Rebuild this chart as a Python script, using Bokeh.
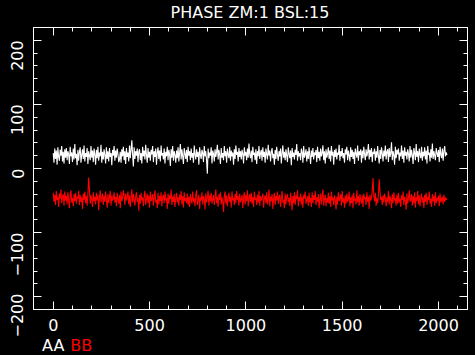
import numpy as np
from bokeh.plotting import figure
from bokeh.layouts import column
from bokeh.models import Range1d, LinearAxis, SingleIntervalTicker, CustomJSTickFormatter, Div
from bokeh.embed import file_html
from bokeh.resources import INLINE

TITLE = "PHASE ZM:1 BSL:15"
SERIES_NAMES = ["AA", "BB"]
SERIES_COLORS = ["white", "red"]
CHANNEL_STEP = 4

aa = [
    24, 9, 31, 15, 28, 6, 33, 18, 12, 29, 20, 35, 11, 26, 8, 30,
    17, 32, 13, 27, 22, 7, 34, 19, 25, 10, 31, 14, 38, 16, 23, 5,
    29, 12, 26, 33, 9, 21, 30, 15, 36, 11, 24, 18, 32, 7, 27, 20,
    13, 35, 17, 28, 10, 31, 22, 6, 29, 16, 34, 12, 25, 19, 37, 9,
    26, 14, 30, 21, 8, 33, 15, 27, 11, 32, 18, 24, 5, 29, 20, 35,
    12, 28, 17, 31, 23, 10, 14, 26, 9, 30, 19, 34, 13, 27, 7, 32,
    18, 25, 11, 36, 16, 29, 44, 22, 3, 33, 15, 27, 20, 31, 10, 26,
    30, 13, 24, 8, 34, 19, 28, 14, 37, 21, 9, 32, 17, 26, 12, 29,
    22, 35, 10, 27, 18, 31, 6, 25, 33, 15, 28, 11, 36, 20, 24, 14,
    31, 8, 26, 19, 34, 13, 29, 22, 4, 30, 17, 35, 12, 27, 21, 9,
    28, 16, 33, 11, 25, 38, 14, 30, 19, 7, 32, 23, 15, 29, 10, 34,
    20, 27, 13, 31, 17, 24, 9, 36, 22, 14, 30, 18, 26, 6, 33, 21,
    15, 29, 24, 10, 35, 19, 27, 12, -8, 31, 16, 25, 20, 33, 8, 28,
    23, 11, 30, 18, 26, 37, 14, 29, 21, 7, 32, 17, 24, 13, 35, 19,
    27, 9, 31, 22, 16, 34, 12, 28, 19, 25, 6, 30, 15, 36, 21, 26,
    11, 32, 18, 27, 14, 29, 23, 8, 33, 20, 26, 13, 31, 17, 39, 22,
    16, 28, 10, 34, 21, 25, 13, 30, 7, 27, 19, 35, 15, 24, 29, 12,
    33, 18, 26, 9, 31, 22, 14, 37, 20, 28, 11, 25, 32, 16, 23, 6,
    29, 15, 34, 21, 12, 27, 19, 31, 8, 24, 36, 17, 26, 13, 30, 20,
    10, 33, 23, 16, 28, 5, 32, 18, 25, 14, 29, 21, 38, 12, 27, 19,
    24, 13, 31, 26, 9, 35, 17, 22, 30, 11, 27, 15, 33, 20, 7, 28,
    18, 32, 14, 25, 21, 29, 10, 34, 16, 26, 12, 31, 19, 24, 36, 13,
    27, 8, 30, 17, 23, 33, 15, 28, 11, 35, 20, 26, 6, 29, 18, 31,
    14, 25, 21, 37, 12, 27, 19, 32, 16, 24, 9, 30, 22, 34, 13, 28,
    20, 11, 33, 18, 29, 15, 26, 7, 31, 23, 17, 36, 12, 27, 21, 30,
    9, 28, 16, 34, 22, 13, 30, 19, 25, 38, 14, 29, 18, 32, 10, 26,
    23, 31, 12, 27, 17, 35, 20, 8, 29, 15, 33, 24, 11, 28, 19, 36,
    14, 26, 30, 10, 32, 18, 24, 41, 13, 27, 21, 6, 34, 16, 29, 22,
    31, 12, 25, 19, 36, 15, 28, 9, 33, 20, 26, 14, 30, 23, 11, 35,
    17, 29, 21, 7, 32, 24, 13, 38, 18, 27, 10, 31, 22, 16, 34, 12,
    26, 19, 33, 14, 28, 8, 35, 21, 25, 11, 30, 17, 39, 15, 27, 20,
    13, 32, 24, 18, 29, 10, 34, 22, 16, 31, 12, 27, 35, 19, 25, 21,
]

bb = [
    -38, -52, -41, -57, -35, -49, -44, -60, -39, -47, -33, -54, -45, -40, -58, -36,
    -50, -43, -56, -37, -48, -62, -42, -34, -53, -46, -59, -40, -51, -38, -55, -44,
    -47, -35, -57, -41, -52, -45, -63, -39, -49, -36, -54, -43, -58, -40, -14, -32,
    -55, -42, -48, -60, -37, -51, -44, -56, -38, -50, -41, -65, -46, -34, -53, -47,
    -39, -57, -43, -52, -36, -49, -61, -40, -54, -45, -35, -58, -42, -50, -47, -37,
    -53, -44, -59, -38, -48, -55, -41, -62, -36, -51, -46, -34, -43, -57, -39, -50,
    -45, -36, -56, -42, -60, -47, -33, -53, -40, -49, -58, -44, -37, -52, -46, -66,
    -41, -55, -38, -50, -45, -59, -43, -35, -57, -48, -39, -54, -42, -61, -36, -51,
    -47, -40, -58, -44, -34, -53, -49, -62, -38, -56, -43, -51, -37, -59, -45, -41,
    -54, -36, -50, -46, -63, -39, -55, -42, -48, -33, -57, -44, -52, -40, -60, -47,
    -38, -53, -45, -58, -41, -49, -35, -56, -43, -61, -37, -51, -46, -54, -39, -57,
    -44, -60, -40, -48, -55, -36, -52, -46, -59, -42, -34, -57, -49, -41, -63, -45,
    -50, -37, -56, -43, -47, -64, -39, -53, -45, -35, -58, -42, -51, -38, -55, -48,
    -41, -57, -46, -33, -54, -44, -60, -40, -49, -37, -56, -45, -52, -68, -43, -36,
    -55, -42, -59, -47, -38, -52, -44, -61, -36, -50, -46, -57, -40, -54, -35, -49,
    -43, -58, -39, -53, -48, -41, -62, -45, -37, -56, -42, -51, -34, -59, -47, -40,
    -52, -38, -55, -44, -60, -36, -49, -46, -57, -41, -53, -35, -58, -43, -50, -45,
    -39, -61, -47, -42, -54, -37, -56, -48, -33, -59, -44, -51, -40, -63, -46, -38,
    -57, -43, -50, -36, -55, -45, -41, -60, -47, -35, -53, -49, -62, -39, -56, -44,
    -40, -52, -46, -58, -38, -49, -65, -43, -54, -37, -57, -42, -48, -34, -59, -45,
    -51, -39, -56, -44, -61, -41, -47, -36, -55, -50, -43, -58, -38, -53, -46, -60,
    -37, -54, -42, -49, -35, -57, -45, -52, -40, -62, -47, -39, -56, -44, -33, -58,
    -48, -41, -59, -46, -53, -38, -55, -43, -60, -36, -50, -45, -57, -42, -49, -64,
    -44, -56, -37, -51, -47, -40, -58, -35, -53, -46, -61, -42, -55, -39, -52, -48,
    -36, -59, -45, -54, -41, -62, -38, -50, -47, -56, -34, -53, -43, -58, -40, -49,
    -55, -42, -60, -39, -48, -45, -57, -37, -52, -44, -63, -41, -50, -46, -35, -15,
    -43, -51, -38, -58, -46, -54, -40, -17, -36, -49, -44, -57, -42, -53, -39, -47,
    -59, -45, -52, -35, -56, -43, -48, -62, -40, -54, -37, -50, -46, -58, -41, -55,
    -38, -53, -47, -60, -42, -49, -36, -57, -44, -51, -64, -39, -55, -46, -34, -52,
    -48, -40, -58, -43, -54, -37, -61, -45, -50, -35, -56, -42, -59, -47, -39, -53,
    -45, -62, -41, -52, -38, -57, -44, -49, -36, -55, -47, -60, -40, -51, -43, -58,
    -37, -54, -46, -50, -42, -59, -39, -53, -48, -44, -56, -41, -52, -45, -49, -47,
]

x_aa = np.arange(len(aa)) * CHANNEL_STEP
x_bb = np.arange(len(bb)) * CHANNEL_STEP

FONT = "DejaVu Sans"
FS = "16px"

title_div = Div(
    text=TITLE, width=475, height=25, margin=(0, 0, 0, 0),
    styles={
        "background-color": "black",
        "color": "white",
        "font-family": FONT,
        "font-size": "16px",
        "line-height": "18px",
        "padding-top": "4px",
        "padding-left": "33px",
        "padding-right": "8px",
        "text-align": "center",
        "box-sizing": "border-box",
        "overflow": "hidden",
        "white-space": "nowrap",
    },
)

p = figure(
    frame_width=434, frame_height=282,
    min_border_left=33, min_border_right=8, min_border_top=2, min_border_bottom=28,
    x_range=Range1d(-102.4, 2150.4), y_range=Range1d(-220, 220),
    output_backend="svg", toolbar_location=None,
    background_fill_color="black", border_fill_color="black",
    outline_line_color="white", margin=(0, 0, 0, 0),
)
p.grid.visible = False

def style(ax, labels=True):
    ax.axis_line_color = "white"
    ax.major_tick_line_color = "white"
    ax.minor_tick_line_color = "white"
    ax.major_tick_in = 8
    ax.major_tick_out = 0
    ax.minor_tick_in = 4
    ax.minor_tick_out = 0
    ax.major_label_text_color = "white"
    ax.major_label_text_font = FONT
    ax.major_label_text_font_size = FS
    if not labels:
        ax.formatter = CustomJSTickFormatter(code="return '';")
        ax.major_label_standoff = 0

p.xaxis.ticker = SingleIntervalTicker(interval=500, num_minor_ticks=5)
p.yaxis.ticker = SingleIntervalTicker(interval=100, num_minor_ticks=5)
style(p.xaxis[0])
style(p.yaxis[0])
p.xaxis.major_label_standoff = 9
p.yaxis.major_label_standoff = 16
p.yaxis.major_label_orientation = np.pi / 2

top = LinearAxis(ticker=SingleIntervalTicker(interval=500, num_minor_ticks=5))
style(top, labels=False)
p.add_layout(top, "above")
right = LinearAxis(ticker=SingleIntervalTicker(interval=100, num_minor_ticks=5))
style(right, labels=False)
p.add_layout(right, "right")

p.line(x_bb, bb, line_color=SERIES_COLORS[1], line_width=1.1)
p.line(x_aa, aa, line_color=SERIES_COLORS[0], line_width=1.1)

legend_html = (
    f'<span style="color:{SERIES_COLORS[0]}">{SERIES_NAMES[0]}</span>'
    f'<span style="color:{SERIES_COLORS[1]}; margin-left:6px">{SERIES_NAMES[1]}</span>'
)
legend = Div(
    text=legend_html, width=475, height=18, margin=(0, 0, 0, 0),
    styles={
        "background-color": "black",
        "font-family": FONT,
        "font-size": "16px",
        "line-height": "18px",
        "padding-left": "42px",
        "box-sizing": "border-box",
        "overflow": "hidden",
        "white-space": "nowrap",
    },
)

layout = column(title_div, p, legend, spacing=0, margin=(0, 0, 0, 0),
                styles={"background-color": "black"})

open("out.html", "w").write(file_html(layout, INLINE))
